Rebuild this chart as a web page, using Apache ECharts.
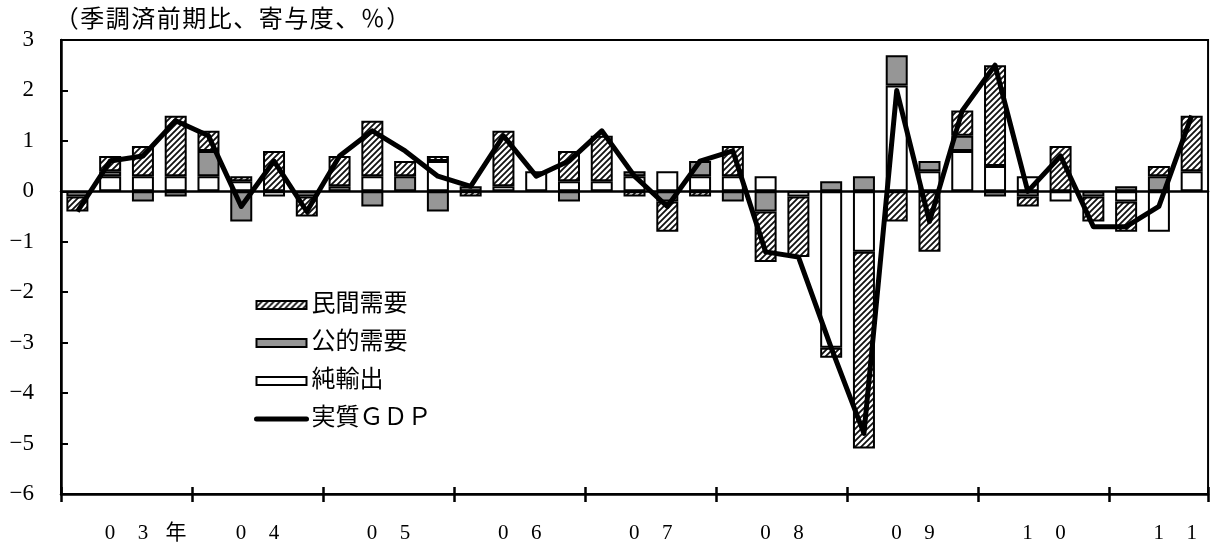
<!DOCTYPE html>
<html>
<head>
<meta charset="utf-8">
<script src="https://cdn.jsdelivr.net/npm/echarts@6.0.0/dist/echarts.min.js"></script>
<style>
  html, body { margin: 0; padding: 0; background: #fff; }
  #chart { width: 1230px; height: 544px; }
</style>
</head>
<body>
<div id="chart"></div>
<script>
// Quarterly categories, 2003 Q1 – 2011 Q3
const quarters = [
  '03Q1','03Q2','03Q3','03Q4','04Q1','04Q2','04Q3','04Q4',
  '05Q1','05Q2','05Q3','05Q4','06Q1','06Q2','06Q3','06Q4',
  '07Q1','07Q2','07Q3','07Q4','08Q1','08Q2','08Q3','08Q4',
  '09Q1','09Q2','09Q3','09Q4','10Q1','10Q2','10Q3','10Q4',
  '11Q1','11Q2','11Q3'
];

// Year captions under the axis
const yearLabels = ['03年', '04', '05', '06', '07', '08', '09', '10', '11'];

// Unit note above the plot
const unitNote = '（季調済前期比、寄与度、％）';

// Contributions to q/q growth (seasonally adjusted, % points)
const privateDemand = [
  -0.3, 0.3, 0.6, 1.2, 0.4, 0.1, 0.8, -0.4,
  0.6, 1.1, 0.3, 0.1, -0.1, 1.1, 0, 0.6,
  0.9, -0.1, -0.6, -0.1, 0.6, -1.0, -1.2, -0.2,
  -3.9, -0.6, -1.2, 0.5, 2.0, -0.2, 0.9, -0.5,
  -0.6, 0.2, 1.1
];
const publicDemand = [
  -0.1, 0.1, -0.2, -0.1, 0.5, -0.6, 0, -0.1,
  0.1, -0.3, 0.3, -0.4, 0.1, 0, 0, -0.2,
  0, 0.1, -0.2, 0.3, -0.2, -0.4, 0, 0.2,
  0.3, 0.6, 0.2, 0.3, -0.1, -0.1, 0, -0.1,
  0.1, 0.3, 0
];
const netExports = [
  0, 0.3, 0.3, 0.3, 0.3, 0.2, -0.1, 0,
  0, 0.3, 0, 0.6, 0, 0.1, 0.4, 0.2,
  0.2, 0.3, 0.4, 0.3, 0.3, 0.3, -0.1, -3.1,
  -1.2, 2.1, 0.4, 0.8, 0.5, 0.3, -0.2, 0,
  -0.2, -0.8, 0.4
];
const realGDP = [
  -0.4, 0.6, 0.7, 1.4, 1.1, -0.3, 0.6, -0.4,
  0.7, 1.2, 0.8, 0.3, 0.1, 1.1, 0.3, 0.6,
  1.2, 0.3, -0.3, 0.6, 0.8, -1.2, -1.3, -3.1,
  -4.8, 2.0, -0.6, 1.6, 2.5, 0.0, 0.7, -0.7,
  -0.7, -0.3, 1.5
];

const SERIF = '"Liberation Serif", "Noto Sans CJK JP", serif';
const JP = '"Liberation Serif", "Noto Sans CJK JP", sans-serif';

// Diagonal "////" hatch tile for private demand
function hatchTile() {
  const s = 6;
  const c = document.createElement('canvas');
  c.width = s; c.height = s;
  const g = c.getContext('2d');
  g.fillStyle = '#fff';
  g.fillRect(0, 0, s, s);
  g.strokeStyle = '#111';
  g.lineWidth = 1.8;
  g.beginPath();
  g.moveTo(-1, 1); g.lineTo(1, -1);
  g.moveTo(-1, s + 1); g.lineTo(s + 1, -1);
  g.moveTo(s - 1, s + 1); g.lineTo(s + 1, s - 1);
  g.stroke();
  return c;
}

// Zero contributions are left empty so no flat outline is drawn
const blankZeros = arr => arr.map(v => (v === 0 ? null : v));

// Lay a string out in fixed-width cells (full-width typesetting)
const cells = (text, style) => Array.from(text).map(ch => '{' + style + '|' + ch + '}').join('');

// Each year caption uses three cells; the trailing cell keeps the digits
// centred on the middle of the year.
function yearCaption(value, index) {
  const label = yearLabels[(index - 2) / 4];
  if (label === undefined) return '';
  const chars = Array.from(label);
  while (chars.length < 3) chars.push(' ');
  return cells(chars.join(''), 'c');
}

const bar = {
  type: 'bar',
  stack: 'contrib',
  barWidth: 22,
  xAxisIndex: 0,
  yAxisIndex: 0
};

const axisBlack = { color: '#000', width: 2.5 };

function catAxis(extra) {
  return Object.assign({
    type: 'category',
    data: quarters,
    boundaryGap: true,
    position: 'bottom',
    axisLine: { show: false, onZero: false },
    axisTick: { show: false },
    axisLabel: { show: false },
    splitLine: { show: false }
  }, extra);
}

const chart = echarts.init(document.getElementById('chart'), null, { renderer: 'canvas' });

chart.setOption({
  animation: false,
  backgroundColor: '#fff',
  title: {
    text: cells(unitNote, 't'),
    left: 54,
    top: 9,
    padding: 0,
    textStyle: {
      fontSize: 24, fontWeight: 'normal', color: '#000', fontFamily: JP,
      rich: {
        t: { width: 25.5, align: 'center', fontSize: 24, color: '#000', fontFamily: JP }
      }
    }
  },
  legend: {
    orient: 'vertical',
    left: 249,
    top: 288,
    itemWidth: 50,
    itemHeight: 8,
    itemGap: 14,
    selectedMode: false,
    data: [
      { name: '民間需要', icon: 'rect' },
      { name: '公的需要', icon: 'rect' },
      { name: '純輸出', icon: 'rect' },
      {
        name: '実質ＧＤＰ',
        itemStyle: { color: 'rgba(0,0,0,0)', borderWidth: 0 },
        lineStyle: { color: '#000', width: 5, cap: 'round' }
      }
    ],
    textStyle: { fontSize: 24, color: '#000', fontFamily: JP }
  },
  grid: {
    left: 61,
    right: 1,
    top: 40,
    bottom: 49,
    show: true,
    borderColor: '#000',
    borderWidth: 2,
    backgroundColor: 'transparent'
  },
  xAxis: [
    // bottom axis: line, outward ticks and year captions
    catAxis({
      axisLine: { show: true, onZero: false, lineStyle: axisBlack },
      axisTick: { show: true, interval: 3, inside: false, length: 8, lineStyle: axisBlack },
      axisLabel: {
        show: true,
        interval: (i) => i % 4 === 2,
        formatter: yearCaption,
        margin: 29,
        rich: {
          c: { width: 33, align: 'center', fontSize: 21, color: '#000', fontFamily: SERIF }
        }
      }
    }),
    // inward half of the year ticks
    catAxis({
      axisTick: { show: true, interval: 3, inside: true, length: 7, lineStyle: axisBlack }
    }),
    // zero line
    catAxis({
      axisLine: { show: true, onZero: true, lineStyle: axisBlack }
    })
  ],
  yAxis: {
    type: 'value',
    min: -6,
    max: 3,
    interval: 1,
    axisLine: { show: true, lineStyle: axisBlack },
    axisTick: { show: true, inside: true, length: 7, lineStyle: { color: '#000', width: 2 } },
    splitLine: { show: false },
    axisLabel: {
      color: '#000',
      fontSize: 23,
      fontFamily: SERIF,
      margin: 27,
      formatter: (v) => (v < 0 ? '\u2212' + Math.abs(v) : String(v))
    }
  },
  series: [
    Object.assign({}, bar, {
      name: '純輸出',
      data: blankZeros(netExports),
      itemStyle: { color: '#fff', borderColor: '#000', borderWidth: 2 }
    }),
    Object.assign({}, bar, {
      name: '公的需要',
      data: blankZeros(publicDemand),
      itemStyle: { color: '#969696', borderColor: '#000', borderWidth: 2 }
    }),
    Object.assign({}, bar, {
      name: '民間需要',
      data: blankZeros(privateDemand),
      itemStyle: { color: { image: hatchTile(), repeat: 'repeat' }, borderColor: '#000', borderWidth: 2 }
    }),
    {
      type: 'line',
      name: '実質ＧＤＰ',
      data: realGDP,
      symbol: 'none',
      z: 5,
      itemStyle: { color: '#000' },
      lineStyle: { color: '#000', width: 5, join: 'round' }
    }
  ]
});
</script>
</body>
</html>
